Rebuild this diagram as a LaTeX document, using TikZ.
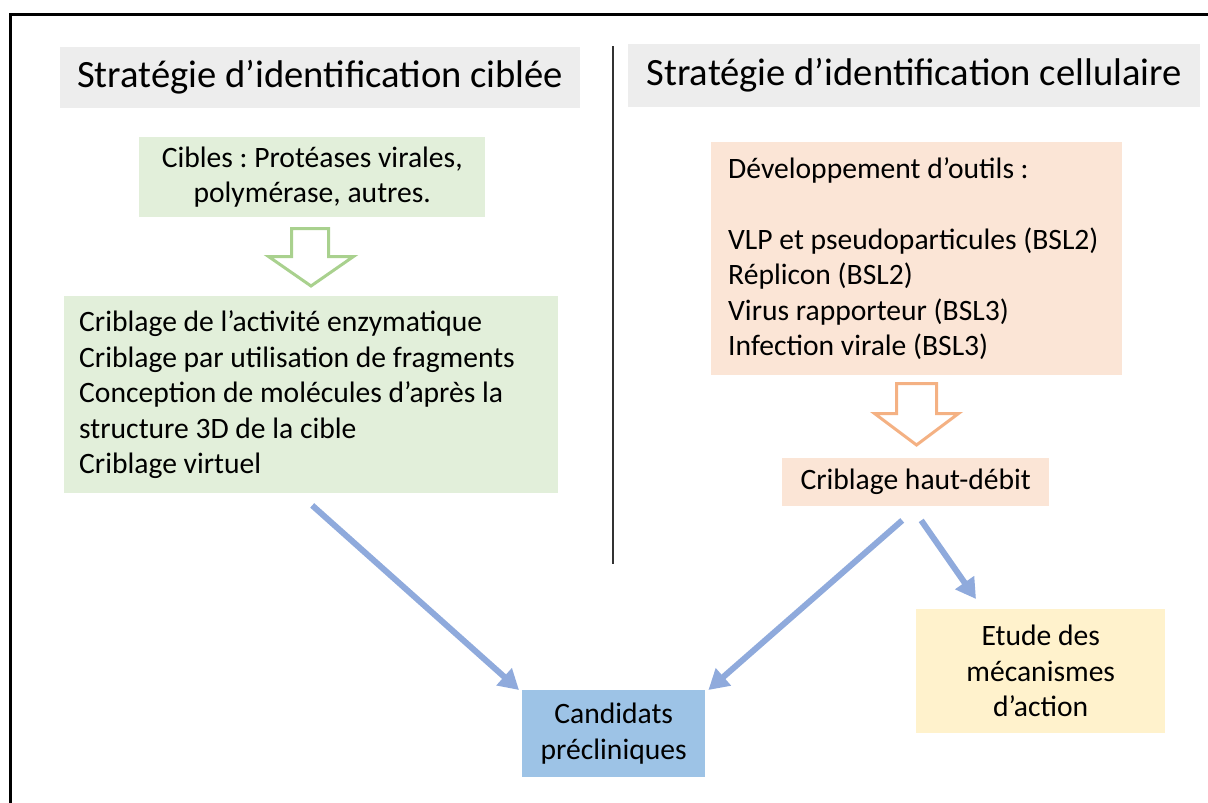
\documentclass[tikz,border=0pt]{standalone}
\usepackage{fontspec}
\setmainfont{Carlito}
\usetikzlibrary{arrows.meta}
\definecolor{titlegray}{HTML}{EDEDED}
\definecolor{greenfill}{HTML}{E2EFDA}
\definecolor{greenline}{HTML}{A9D18E}
\definecolor{orangefill}{HTML}{FBE5D6}
\definecolor{orangeline}{HTML}{F4B183}
\definecolor{yellowfill}{HTML}{FFF2CC}
\definecolor{bluefill}{HTML}{9DC3E6}
\definecolor{arrowblue}{HTML}{8FAADC}
\frenchspacing

\begin{document}
\begin{tikzpicture}[x=1pt,y=-1pt,
    every node/.style={font=\fontsize{29.6}{35.5}\selectfont,inner sep=0pt,anchor=north west},
    titlebox/.style={fill=titlegray,font=\fontsize{38.6}{46}\selectfont},
    greenbox/.style={fill=greenfill},
    orangebox/.style={fill=orangefill},
    hollowarrow/.style={line width=3,fill=white,line join=miter},
    bluearrow/.style={draw=arrowblue,line width=6,-{Triangle[length=20pt,width=22pt]}}]
    \useasboundingbox (0,0) rectangle (1208,803);

    % frame and divider
    \draw[line width=2.5] (10.7,803) -- (10.7,14.3) -- (1208,14.3);
    \draw[black!80,line width=1.3] (613,46) -- (613,564);

    % left column
    \node[titlebox,minimum width=520,minimum height=61] (titleleft) at (60,47) {Stratégie d’identification ciblée};
    \node[greenbox,minimum width=346,minimum height=80,align=center] (cibles) at (139,137) {Cibles : Protéases virales,\\polymérase, autres.};
    \draw[hollowarrow,draw=greenline] (291.5,228.5) -- (328.5,228.5) -- (328.5,256.5) -- (353.5,256.5)
      -- (311,286) -- (268.5,256.5) -- (291.5,256.5) -- cycle;
    \node[greenbox,minimum width=494,minimum height=197,text width=464,align=flush left] (criblage) at (64,296)
      {Criblage de l’activité enzymatique\\Criblage par utilisation de fragments\\Conception de molécules d’après la\\structure 3D de la cible\\Criblage virtuel};

    % right column
    \node[titlebox,minimum width=572,minimum height=63] (titleright) at (628,44) {Stratégie d’identification cellulaire};
    \node[orangebox,minimum width=411,minimum height=233,text width=377,align=flush left] (outils) at (711,142)
      {Développement d’outils :\\[35.5pt]VLP et pseudoparticules (BSL2)\\Réplicon (BSL2)\\Virus rapporteur (BSL3)\\Infection virale (BSL3)};
    \draw[hollowarrow,draw=orangeline] (896.5,383.5) -- (936.5,383.5) -- (936.5,413.5) -- (958.5,413.5)
      -- (916.5,445) -- (874.5,413.5) -- (896.5,413.5) -- cycle;
    \node[orangebox,minimum width=267,minimum height=48] (hautdebit) at (782,458) {Criblage haut-débit};
    \node[fill=yellowfill,minimum width=249,minimum height=124,align=center] (etude) at (916,609) {Etude des\\mécanismes\\d’action};

    % result
    \node[fill=bluefill,minimum width=183,minimum height=87,align=center] (candidats) at (522,690) {Candidats\\précliniques};

    \draw[bluearrow] ([shift={(1,12)}]criblage.south) -- ([shift={(-3,0)}]candidats.north west);
    \draw[bluearrow] ([shift={(-13.5,14)}]hautdebit.south) -- ([shift={(3,0)}]candidats.north east);
    \draw[bluearrow] ([shift={(5.5,14)}]hautdebit.south) -- ([shift={(60,-10)}]etude.north west);
\end{tikzpicture}
\end{document}
